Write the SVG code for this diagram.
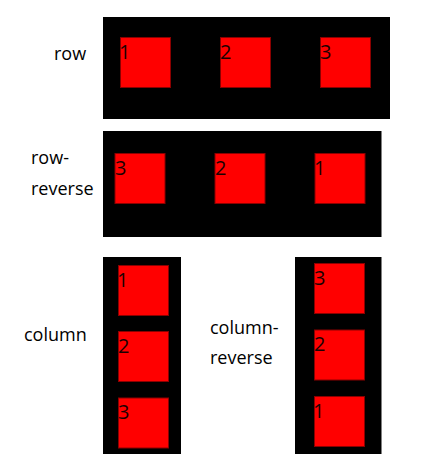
<svg xmlns="http://www.w3.org/2000/svg" width="430" height="464" viewBox="0 0 430 464">
<style>
.box{fill:#000}
.item{fill:#ff0000;stroke:#8b0000;stroke-width:1}
text{font-family:"Open Sans","Noto Sans","DejaVu Sans",sans-serif;font-size:18px;fill:#000}
.num{fill:#1a0000;font-size:20px}
</style>
<rect width="430" height="464" fill="#fff"/>
<g id="row">
<text x="54" y="60">row</text>
<rect class="box" x="103" y="17" width="287" height="102"/>
<g id="row-1"><rect class="item" x="120.5" y="37.5" width="50" height="50"/><text class="num" x="119" y="58.5">1</text></g>
<g id="row-2"><rect class="item" x="220.5" y="37.5" width="50" height="50"/><text class="num" x="220" y="58.5">2</text></g>
<g id="row-3"><rect class="item" x="320.5" y="37.5" width="50" height="50"/><text class="num" x="320" y="58.5">3</text></g>
</g>
<g id="row-reverse">
<text x="31" y="164">row-</text>
<text x="31" y="195">reverse</text>
<rect class="box" x="103" y="131" width="279" height="106"/>
<line x1="381.5" y1="131" x2="381.5" y2="237" stroke="#808080" stroke-width="1"/>
<g id="rr-3"><rect class="item" x="115" y="153.5" width="50" height="50" stroke="none"/><text class="num" x="115" y="174.5">3</text></g>
<g id="rr-2"><rect class="item" x="215" y="153.5" width="50" height="50" stroke="none"/><text class="num" x="215" y="174.5">2</text></g>
<g id="rr-1"><rect class="item" x="315" y="153.5" width="50" height="50" stroke="none"/><text class="num" x="314" y="174.5">1</text></g>
</g>
<g id="column">
<text x="24" y="341">column</text>
<rect class="box" x="103" y="257" width="78" height="197"/>
<g id="col-1"><rect class="item" x="118.5" y="265.5" width="50" height="50"/><text class="num" x="117" y="286.5">1</text></g>
<g id="col-2"><rect class="item" x="118.5" y="331.5" width="50" height="50"/><text class="num" x="118" y="352.5">2</text></g>
<g id="col-3"><rect class="item" x="118.5" y="398" width="50" height="50"/><text class="num" x="118" y="419">3</text></g>
</g>
<g id="column-reverse">
<text x="210" y="334">column-</text>
<text x="210" y="364">reverse</text>
<rect class="box" x="295" y="257" width="87" height="197"/>
<line x1="381.5" y1="257" x2="381.5" y2="454" stroke="#808080" stroke-width="1"/>
<g id="cr-3"><rect class="item" x="314.5" y="263.5" width="50" height="50"/><text class="num" x="314" y="284.5">3</text></g>
<g id="cr-2"><rect class="item" x="314.5" y="330" width="50" height="50"/><text class="num" x="314" y="351">2</text></g>
<g id="cr-1"><rect class="item" x="314.5" y="396.5" width="50" height="50"/><text class="num" x="313" y="417.5">1</text></g>
</g>
</svg>
